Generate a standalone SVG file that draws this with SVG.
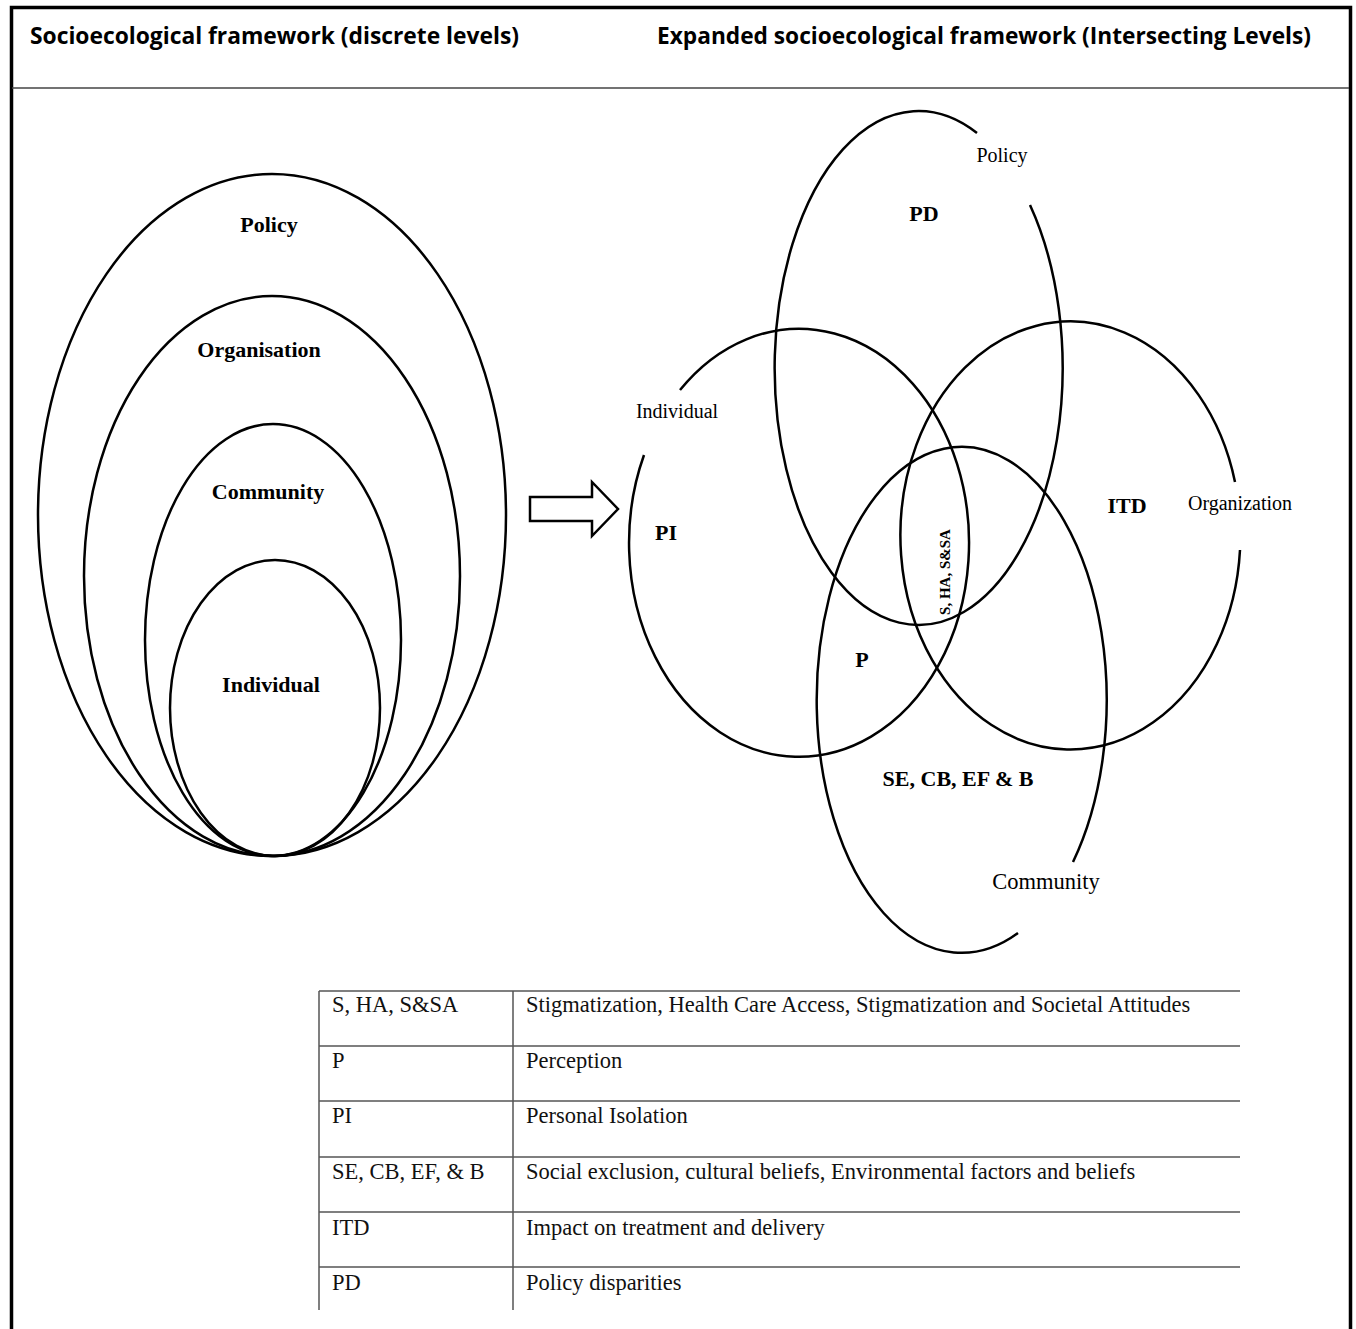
<svg xmlns="http://www.w3.org/2000/svg" width="1356" height="1329" viewBox="0 0 1356 1329">
<style>
.frame{fill:none;stroke:#000;stroke-width:3.5}
.hline{stroke:#444;stroke-width:1.5}
.ring{fill:none;stroke:#000;stroke-width:2.5}
.title{font-family:"Open Sans","Liberation Sans",sans-serif;font-weight:bold;font-size:24px;fill:#000}
.lb{font-family:"Liberation Serif",serif;font-weight:bold;font-size:22px;fill:#000}
.ln{font-family:"Liberation Serif",serif;font-size:20px;fill:#000}
.tt{font-family:"Liberation Serif",serif;font-size:22.5px;fill:#111}
.tl{stroke:#555;stroke-width:1.5}
</style>
<rect width="1356" height="1329" fill="#fff"/>
<g id="frame">
<path class="frame" d="M11.5 1329 V7.5 H1350.5 V1329"/>
<line class="hline" x1="12" y1="88" x2="1349" y2="88"/>
<text class="title" x="30" y="44" textLength="489" lengthAdjust="spacingAndGlyphs">Socioecological framework (discrete levels)</text>
<text class="title" x="657" y="44" textLength="654" lengthAdjust="spacingAndGlyphs">Expanded socioecological framework (Intersecting Levels)</text>
</g>
<g id="left-policy">
<ellipse class="ring" cx="272" cy="515" rx="234" ry="341"/>
<text class="lb" x="269" y="232" text-anchor="middle">Policy</text>
</g>
<g id="left-organisation">
<ellipse class="ring" cx="272" cy="576" rx="188" ry="280"/>
<text class="lb" x="259" y="357" text-anchor="middle">Organisation</text>
</g>
<g id="left-community">
<ellipse class="ring" cx="273" cy="640" rx="128" ry="216"/>
<text class="lb" x="268" y="499" text-anchor="middle">Community</text>
</g>
<g id="left-individual">
<ellipse class="ring" cx="275" cy="708" rx="105" ry="148"/>
<text class="lb" x="271" y="692" text-anchor="middle">Individual</text>
</g>
<g id="connectors">
<path d="M530 497 H592 V482 L618 509 L592 536 V521 H530 Z" fill="#fff" stroke="#000" stroke-width="2.5" stroke-linejoin="miter"/>
</g>
<g id="right-policy">
<path class="ring" d="M1030 205 A144 257 0 1 1 977 133"/>
<text class="ln" x="1002" y="162" text-anchor="middle">Policy</text>
<text class="lb" x="924" y="221" text-anchor="middle">PD</text>
</g>
<g id="right-individual">
<path class="ring" d="M680 390 A170 214 0 1 1 644 455"/>
<text class="ln" x="677" y="418" text-anchor="middle">Individual</text>
<text class="lb" x="666" y="540" text-anchor="middle">PI</text>
</g>
<g id="right-organization">
<path class="ring" d="M1240 550 A170 214 0 1 1 1235 482"/>
<text class="ln" x="1240" y="510" text-anchor="middle">Organization</text>
<text class="lb" x="1127" y="513" text-anchor="middle">ITD</text>
</g>
<g id="right-community">
<path class="ring" d="M1018 933 A145 253 0 1 1 1073 862"/>
<text class="ln" style="font-size:22.5px" x="1046" y="889" text-anchor="middle">Community</text>
<text class="lb" x="958" y="786" text-anchor="middle">SE, CB, EF &amp; B</text>
</g>
<g id="overlap-labels">
<text class="lb" x="862" y="667" text-anchor="middle">P</text>
<text class="lb" style="font-size:15px" transform="translate(950 572) rotate(-90)" text-anchor="middle">S, HA, S&amp;SA</text>
</g>
<g id="legend-table">
<line class="tl" x1="319" y1="991" x2="1240" y2="991"/>
<line class="tl" x1="319" y1="1046" x2="1240" y2="1046"/>
<line class="tl" x1="319" y1="1101" x2="1240" y2="1101"/>
<line class="tl" x1="319" y1="1157" x2="1240" y2="1157"/>
<line class="tl" x1="319" y1="1212" x2="1240" y2="1212"/>
<line class="tl" x1="319" y1="1267" x2="1240" y2="1267"/>
<line class="tl" x1="319" y1="991" x2="319" y2="1310"/>
<line class="tl" x1="513" y1="991" x2="513" y2="1310"/>
<text class="tt" x="332" y="1012">S, HA, S&amp;SA</text>
<text class="tt" x="526" y="1012">Stigmatization, Health Care Access, Stigmatization and Societal Attitudes</text>
<text class="tt" x="332" y="1068">P</text>
<text class="tt" x="526" y="1068">Perception</text>
<text class="tt" x="332" y="1123">PI</text>
<text class="tt" x="526" y="1123">Personal Isolation</text>
<text class="tt" x="332" y="1179">SE, CB, EF, &amp; B</text>
<text class="tt" x="526" y="1179">Social exclusion, cultural beliefs, Environmental factors and beliefs</text>
<text class="tt" x="332" y="1235">ITD</text>
<text class="tt" x="526" y="1235">Impact on treatment and delivery</text>
<text class="tt" x="332" y="1290">PD</text>
<text class="tt" x="526" y="1290">Policy disparities</text>
</g>
</svg>
